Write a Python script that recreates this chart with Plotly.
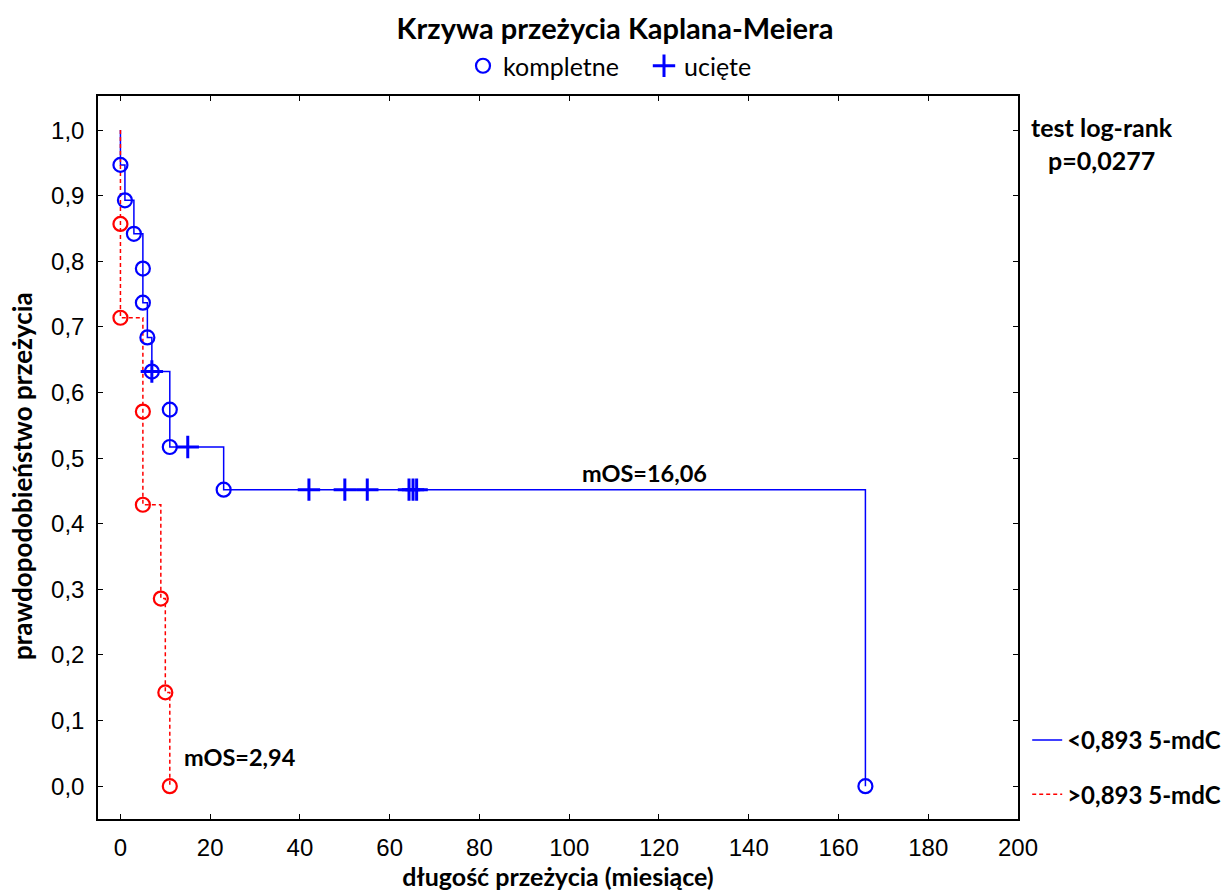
import plotly.graph_objects as go

# Blue group (<0,893 5-mdC) step curve
blue_t = [0, 0, 1, 3, 5, 6, 7, 11, 23, 166]
blue_s = [1.0, 0.947, 0.893, 0.842, 0.737, 0.684, 0.632, 0.517, 0.452, 0.0]
# Blue complete events
blue_ev_t = [0, 1, 3, 5, 5, 6, 7, 11, 11, 23, 166]
blue_ev_s = [0.947, 0.893, 0.842, 0.789, 0.737, 0.684, 0.632, 0.574, 0.517, 0.452, 0.0]
# Blue censored
blue_c_t = [7, 15, 42, 50, 55, 64.3, 65.2, 66]
blue_c_s = [0.632, 0.517, 0.452, 0.452, 0.452, 0.452, 0.452, 0.452]

# Red group (>0,893 5-mdC)
red_t = [0, 0, 5, 9, 10, 11]
red_s = [1.0, 0.714, 0.429, 0.286, 0.143, 0.0]
red_ev_t = [0, 0, 5, 5, 9, 10, 11]
red_ev_s = [0.857, 0.714, 0.571, 0.429, 0.286, 0.143, 0.0]

x_ticks = list(range(0, 201, 20))
y_ticks = [round(i * 0.1, 1) for i in range(11)]

BLUE = "#0000ff"
RED = "#ff0000"
FONT = "Lato"

fig = go.Figure()

fig.add_trace(go.Scatter(x=blue_t, y=blue_s, mode="lines", line_shape="hv",
                         line=dict(color=BLUE, width=1.5),
                         name="<0,893 5-mdC", legend="legend2", legendgroup="a"))
fig.add_trace(go.Scatter(x=red_t, y=red_s, mode="lines", line_shape="hv",
                         line=dict(color=RED, width=1.5, dash="4px,3px"),
                         name=">0,893 5-mdC", legend="legend2", legendgroup="b"))
fig.add_trace(go.Scatter(x=red_ev_t, y=red_ev_s, mode="markers",
                         marker=dict(symbol="circle-open", size=14, color=RED,
                                     line=dict(width=2.2, color=RED)),
                         showlegend=False))
fig.add_trace(go.Scatter(x=blue_ev_t, y=blue_ev_s, mode="markers",
                         marker=dict(symbol="circle-open", size=14, color=BLUE,
                                     line=dict(width=2.2, color=BLUE)),
                         name="kompletne", legend="legend"))
fig.add_trace(go.Scatter(x=blue_c_t, y=blue_c_s, mode="markers",
                         marker=dict(symbol="cross-thin", size=16, color=BLUE,
                                     line=dict(width=3, color=BLUE)),
                         name="ucięte", legend="legend"))

axis_common = dict(showline=True, linecolor="black", linewidth=1.5, mirror="ticks",
                   ticks="inside", ticklen=5, tickwidth=1.2, tickcolor="black",
                   showgrid=False, zeroline=False, automargin=False,
                   tickfont=dict(family="Liberation Sans", size=24, color="black"))

fig.update_layout(
    width=1230, height=892,
    margin=dict(l=98, r=212, t=96, b=73, autoexpand=False),
    paper_bgcolor="white", plot_bgcolor="white",
    separators=", ",
    title=dict(text="Krzywa przeżycia Kaplana-Meiera", x=0.5, xanchor="center",
               y=1 - 29 / 892, yanchor="middle",
               font=dict(family=FONT, size=29, color="black", weight="bold")),
    xaxis=dict(range=[-5, 200], tickvals=x_ticks, ticklabelstandoff=6,
               title=dict(text="długość przeżycia (miesiące)", standoff=8,
                          font=dict(family=FONT, size=25, color="black", weight="bold")),
               **axis_common),
    yaxis=dict(range=[-0.05, 1.052], tickvals=y_ticks, tickformat=".1f",
               ticklabelstandoff=7, **axis_common),
    legend=dict(orientation="h", x=644 / 1230, xref="container", xanchor="center",
                y=1 - 66 / 892, yref="container", yanchor="middle",
                font=dict(family=FONT, size=25, color="black"),
                entrywidth=136, itemwidth=30, tracegroupgap=0, bgcolor="rgba(0,0,0,0)"),
    legend2=dict(orientation="v", x=1.01, xanchor="left",
                 y=(819 - 718) / 723, yanchor="top",
                 font=dict(family=FONT, size=24, color="black", weight="bold"),
                 tracegroupgap=20, bgcolor="rgba(0,0,0,0)", itemwidth=30),
    annotations=[
        dict(text="prawdopodobieństwo przeżycia", textangle=-90, xref="paper", yref="paper",
             x=-76 / 920, y=(819 - 476) / 723, xanchor="center", yanchor="middle",
             showarrow=False, font=dict(family=FONT, size=26, color="black", weight="bold")),
        dict(text="test log-rank<br>p=0,0277", xref="paper", yref="paper",
             x=(1102 - 98) / 920, y=(819 - 143) / 723, xanchor="center", yanchor="middle",
             align="center", showarrow=False,
             font=dict(family=FONT, size=25, color="black", weight="bold")),
        dict(text="mOS=16,06", x=116.7, y=0.477, xref="x", yref="y", showarrow=False,
             font=dict(family=FONT, size=23.5, color="black", weight="bold")),
        dict(text="mOS=2,94", x=26.6, y=0.044, xref="x", yref="y", showarrow=False,
             font=dict(family=FONT, size=23.5, color="black", weight="bold")),
    ],
)

fig.write_html("out.html", config={"displayModeBar": False},
               post_script="document.body.style.margin='0px';")
